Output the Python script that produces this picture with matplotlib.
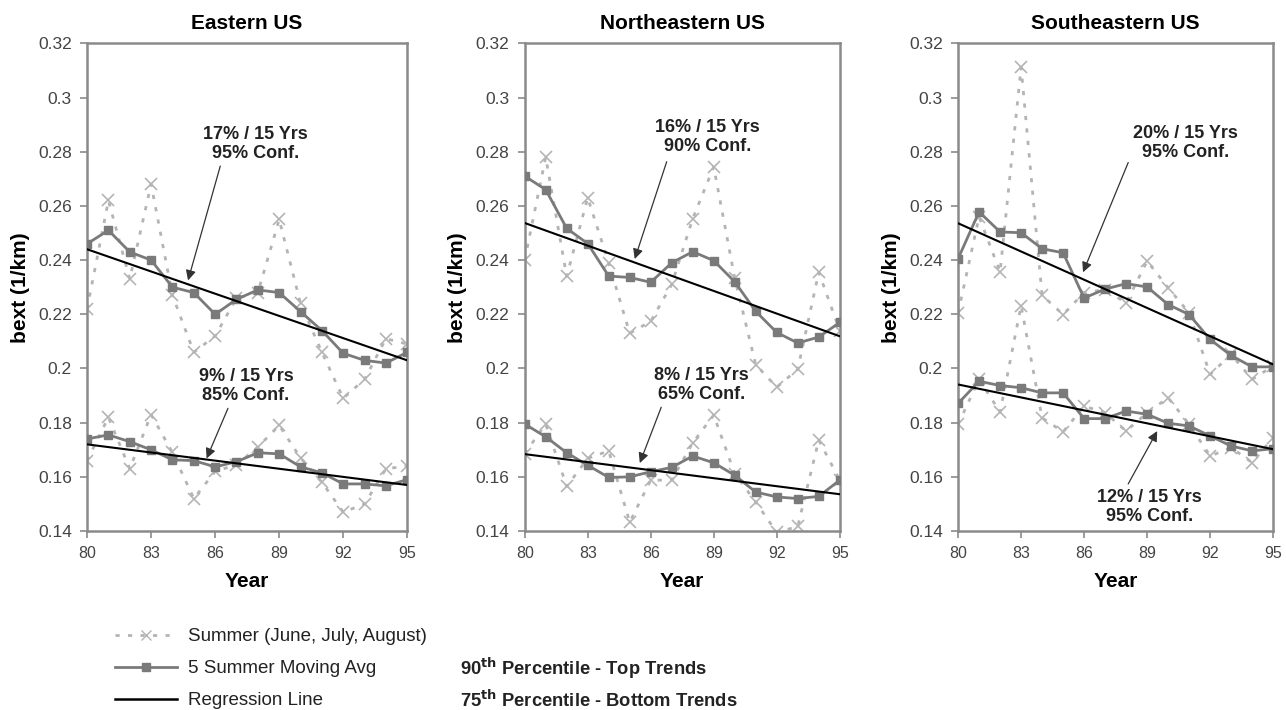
import numpy as np
import matplotlib
matplotlib.use("Agg")
import matplotlib.pyplot as plt
from matplotlib.lines import Line2D
from matplotlib.ticker import FuncFormatter

plt.rcParams['font.family'] = ['Liberation Sans', 'DejaVu Sans']

""" Data """

years = list(range(1980, 1996))
xticks = [80, 83, 86, 89, 92, 95]
yticks = [0.14, 0.16, 0.18, 0.2, 0.22, 0.24, 0.26, 0.28, 0.3, 0.32]
regions = ['Eastern US', 'Northeastern US', 'Southeastern US']

# Eastern US
east_top_summer = [0.222, 0.262, 0.233, 0.268, 0.227, 0.206, 0.212, 0.226, 0.228, 0.255,
                   0.224, 0.206, 0.189, 0.196, 0.211, 0.209]
east_top_avg = [0.246, 0.251, 0.243, 0.240, 0.230, 0.228, 0.220, 0.2255, 0.229, 0.228,
                0.221, 0.214, 0.2056, 0.203, 0.202, 0.206]
east_top_reg = [0.244, 0.203]
east_bot_summer = [0.166, 0.182, 0.163, 0.183, 0.169, 0.152, 0.162, 0.1645, 0.171, 0.179,
                   0.167, 0.158, 0.147, 0.150, 0.163, 0.164]
east_bot_avg = [0.174, 0.1755, 0.173, 0.170, 0.1663, 0.166, 0.1637, 0.1656, 0.1689, 0.1685,
                0.1637, 0.1615, 0.1574, 0.1574, 0.1567, 0.159]
east_bot_reg = [0.172, 0.157]

# Northeastern US
ne_top_summer = [0.240, 0.278, 0.234, 0.263, 0.239, 0.213, 0.2174, 0.231, 0.2553, 0.2744,
                 0.2333, 0.2014, 0.1931, 0.1997, 0.2355, 0.214]
ne_top_avg = [0.271, 0.266, 0.2517, 0.2461, 0.2341, 0.2336, 0.2318, 0.239, 0.2431, 0.2398,
              0.232, 0.2211, 0.2133, 0.2094, 0.2116, 0.217]
ne_top_reg = [0.2537, 0.2119]
ne_bot_summer = [0.1686, 0.1795, 0.1565, 0.1668, 0.1696, 0.1433, 0.1588, 0.1588, 0.1726, 0.1828,
                 0.1612, 0.1507, 0.1395, 0.1417, 0.1736, 0.1588]
ne_bot_avg = [0.1795, 0.1748, 0.1689, 0.1643, 0.1598, 0.160, 0.1619, 0.1635, 0.1677, 0.1652,
              0.1606, 0.1544, 0.1526, 0.152, 0.1528, 0.1588]
ne_bot_reg = [0.1684, 0.1536]

# Southeastern US
se_top_summer = [0.2205, 0.256, 0.2356, 0.3112, 0.227, 0.2199, 0.228, 0.2291, 0.2242, 0.2396,
                 0.2298, 0.2205, 0.1978, 0.2052, 0.196, 0.2009]
se_top_avg = [0.2405, 0.2578, 0.2504, 0.2501, 0.2442, 0.2427, 0.226, 0.2293, 0.2313, 0.2301,
              0.2236, 0.2199, 0.2107, 0.2048, 0.2006, 0.2006]
se_top_reg = [0.2536, 0.2015]
se_bot_summer = [0.1794, 0.196, 0.1839, 0.2232, 0.1818, 0.1766, 0.1861, 0.1837, 0.1769, 0.1837,
                 0.1892, 0.1794, 0.1677, 0.1708, 0.1653, 0.1745]
se_bot_avg = [0.1871, 0.1953, 0.1937, 0.1929, 0.191, 0.191, 0.1815, 0.1815, 0.1843, 0.1831,
              0.1798, 0.1788, 0.1751, 0.1714, 0.1696, 0.1704]
se_bot_reg = [0.1941, 0.1702]

# annotations: (label, text x, text y, arrow tail x, tail y, arrow tip x, tip y)
annotations = [
    [("17% / 15 Yrs\n95% Conf.", 87.9, 0.2827, 86.24, 0.2747, 84.73, 0.2325),
     ("9% / 15 Yrs\n85% Conf.", 87.44, 0.1937, 86.6, 0.1853, 85.6, 0.1668)],
    [("16% / 15 Yrs\n90% Conf.", 88.71, 0.2856, 86.76, 0.2763, 85.24, 0.2404),
     ("8% / 15 Yrs\n65% Conf.", 88.41, 0.1938, 86.5, 0.1857, 85.48, 0.1651)],
    [("20% / 15 Yrs\n95% Conf.", 90.81, 0.2833, 88.1, 0.276, 85.95, 0.2355),
     ("12% / 15 Yrs\n95% Conf.", 89.1, 0.1489, 88.1, 0.1574, 89.48, 0.1769)],
]

""" Plot """

summer_c = '#b4b4b4'
avg_c = '#7a7a7a'
spine_c = '#8a8a8a'

fig = plt.figure(figsize=(12.86, 7.10), dpi=100)
positions = [[0.0677, 0.252, 0.249, 0.687],
             [0.408, 0.252, 0.245, 0.687],
             [0.745, 0.252, 0.245, 0.687]]

all_data = [
    (east_top_summer, east_top_avg, east_top_reg, east_bot_summer, east_bot_avg, east_bot_reg),
    (ne_top_summer, ne_top_avg, ne_top_reg, ne_bot_summer, ne_bot_avg, ne_bot_reg),
    (se_top_summer, se_top_avg, se_top_reg, se_bot_summer, se_bot_avg, se_bot_reg),
]

x = np.array(years) - 1900

for i in range(3):
    ax = fig.add_axes(positions[i])
    ts, ta, tr, bs, ba, br = all_data[i]
    for summer, avg, reg in [(ts, ta, tr), (bs, ba, br)]:
        ax.plot(x, summer, color=summer_c, linestyle=(0, (1.5, 3)), linewidth=2,
                marker='x', markersize=8, markeredgewidth=1.2, zorder=2)
        ax.plot(x, avg, color=avg_c, linewidth=2, marker='s', markersize=6,
                markerfacecolor=avg_c, markeredgecolor=avg_c, zorder=3)
        ax.plot([x[0], x[-1]], reg, color='black', linewidth=1.5, zorder=4)

    for label, tx, ty, ax0, ay0, px, py in annotations[i]:
        ax.text(tx, ty, label, ha='center', va='center', fontsize=13,
                fontweight='bold', color='#222222', linespacing=1.15, zorder=5)
        ax.annotate('', xy=(px, py), xytext=(ax0, ay0), zorder=5,
                    arrowprops=dict(arrowstyle='-|>', color='#333333', lw=0.9,
                                    mutation_scale=15, shrinkA=0, shrinkB=0))

    ax.set_xlim(80, 95)
    ax.set_ylim(0.14, 0.32)
    ax.set_xticks(xticks)
    ax.set_yticks(yticks)
    ax.yaxis.set_major_formatter(FuncFormatter(lambda v, p: f"{v:g}"))
    ax.tick_params(direction='out', length=5, width=1.2, color=spine_c,
                   labelcolor='#444444', pad=6)
    ax.tick_params(axis='y', labelsize=12.5)
    ax.tick_params(axis='x', labelsize=11.5)
    for s in ax.spines.values():
        s.set_color(spine_c)
        s.set_linewidth(1.8)
    ax.set_title(regions[i], fontsize=15, fontweight='bold', pad=10)
    ax.set_xlabel('Year', fontsize=15, fontweight='bold', labelpad=8)
    ax.set_ylabel('bext (1/km)', fontsize=15, fontweight='bold', labelpad=6)

# legend at the bottom
handles = [
    Line2D([], [], color=summer_c, linestyle=(0, (1.5, 3)), linewidth=2, marker='x',
           markersize=7),
    Line2D([], [], color=avg_c, linewidth=2, marker='s', markersize=6),
    Line2D([], [], color='black', linewidth=1.8),
]
labels = ['Summer (June, July, August)', '5 Summer Moving Avg', 'Regression Line']
leg = fig.legend(handles, labels, loc='upper left', bbox_to_anchor=(0.0894, 0.115),
                 frameon=False, fontsize=13.5, handlelength=3.3, labelspacing=0.79,
                 handletextpad=0.6, borderpad=0, borderaxespad=0)
for t in leg.get_texts():
    t.set_color('#222222')

fig.text(0.358, 0.059, r'90$^{\mathbf{th}}$ Percentile - Top Trends', fontsize=13.2,
         fontweight='bold', va='center', color='#222222')
fig.text(0.358, 0.014, r'75$^{\mathbf{th}}$ Percentile - Bottom Trends', fontsize=13.2,
         fontweight='bold', va='center', color='#222222')

fig.savefig('out.png', dpi=100)
